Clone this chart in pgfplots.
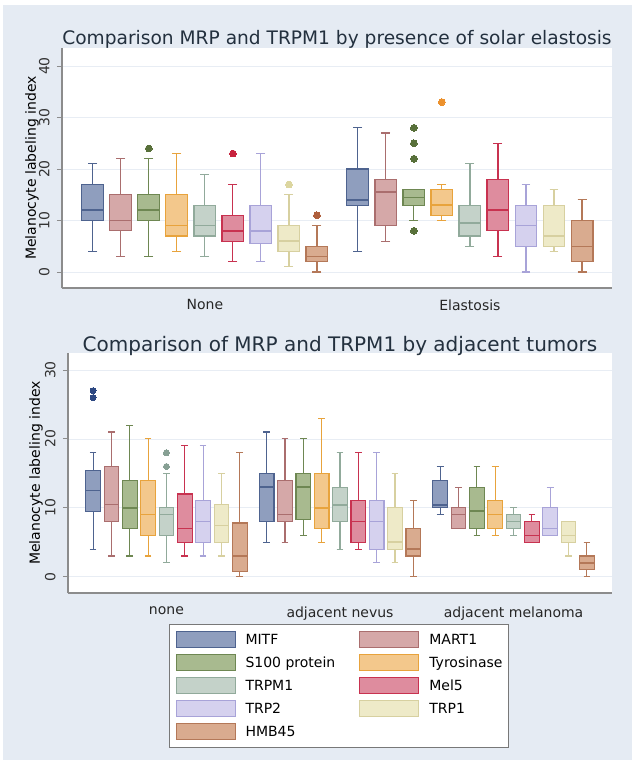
\documentclass[border=0pt]{standalone}
\usepackage{pgfplots}
\pgfplotsset{compat=1.18}
\usepgfplotslibrary{statistics}
\usepackage{fontspec}
\setmainfont{DejaVu Sans}

\definecolor{bgblue}{RGB}{229,235,243}
\definecolor{axisgray}{RGB}{140,140,140}
\definecolor{gridc}{RGB}{232,237,244}
\definecolor{titlec}{RGB}{35,48,62}
\definecolor{legendgray}{RGB}{120,120,120}
% line, fill, outlier colours
\definecolor{cMITF}{RGB}{78,99,143}   \definecolor{fMITF}{RGB}{143,158,190}  \definecolor{oMITF}{RGB}{45,72,130}
\definecolor{cMART}{RGB}{170,110,110} \definecolor{fMART}{RGB}{213,168,168}  \definecolor{oMART}{RGB}{160,90,90}
\definecolor{cS}{RGB}{110,135,82}     \definecolor{fS}{RGB}{168,186,143}     \definecolor{oS}{RGB}{88,112,58}
\definecolor{cTyr}{RGB}{232,163,60}   \definecolor{fTyr}{RGB}{243,200,140}   \definecolor{oTyr}{RGB}{236,145,45}
\definecolor{cTRPM}{RGB}{145,170,155} \definecolor{fTRPM}{RGB}{196,210,201}  \definecolor{oTRPM}{RGB}{135,160,148}
\definecolor{cMel}{RGB}{200,50,80}    \definecolor{fMel}{RGB}{222,140,158}   \definecolor{oMel}{RGB}{200,35,62}
\definecolor{cTRPb}{RGB}{168,163,216} \definecolor{fTRPb}{RGB}{213,209,238}  \definecolor{oTRPb}{RGB}{160,155,210}
\definecolor{cTRPa}{RGB}{215,208,160} \definecolor{fTRPa}{RGB}{238,234,200}  \definecolor{oTRPa}{RGB}{220,214,160}
\definecolor{cHMB}{RGB}{180,120,88}   \definecolor{fHMB}{RGB}{217,171,143}   \definecolor{oHMB}{RGB}{175,95,60}

% #1 position, #2 colour key, #3 lw, #4 q1, #5 median, #6 q3, #7 uw, #8 outliers
\newcommand{\bx}[8]{%
  \addplot[forget plot, draw=c#2, fill=f#2, line width=1.1pt, mark=*,
    mark options={draw=o#2, fill=o#2, line width=0pt},
    boxplot prepared={draw position=#1, lower whisker=#3, lower quartile=#4,
      median=#5, upper quartile=#6, upper whisker=#7}] coordinates {#8};}

\pgfplotsset{
  sw/.style 2 args={legend image code/.code={\draw[draw=#1, fill=#2, line width=1pt] (0pt,-8pt) rectangle (59pt,8pt);}},
  bpaxis/.style={
    scale only axis,
    axis lines=left,
    axis line style={-, draw=axisgray, line width=1.5pt},
    axis background/.style={fill=white},
    ymajorgrids, grid style={draw=gridc, line width=0.8pt},
    tick align=outside, major tick length=5pt,
    ytick style={draw=axisgray, line width=1pt},
    xtick style={draw=none},
    yticklabel style={rotate=90, anchor=south, font=\fontsize{14}{14}\selectfont, text=black!80},
    yticklabel shift=4pt,
    /pgf/number format/assume math mode=true,
    xticklabel style={font=\fontsize{14}{14}\selectfont, text=black!85, yshift=-3pt},
    ylabel={Melanocyte labeling index},
    title style={text=titlec, at={(0.5,1)}, anchor=base},
    boxplot/draw direction=y,
    boxplot/box extend=0.78,
    boxplot/every median/.style={line width=1.5pt},
    mark size=3.4pt,
  }
}

\begin{document}
\begin{tikzpicture}
\fill[white] (0pt,0pt) rectangle (635pt,-769pt);
\fill[bgblue] (3pt,-5pt) rectangle (632pt,-760pt);

% ---------------- top panel ----------------
\begin{axis}[bpaxis,
  at={(62pt,-288pt)}, anchor=south west, width=550pt, height=240pt,
  xmin=-0.1, xmax=19.53, ymin=-3.1, ymax=43.5,
  ytick={0,10,20,30,40},
  xtick={5,14.46}, xticklabels={None,Elastosis},
  ylabel style={at={(axis description cs:-0.0545,0.5)}, anchor=center, font=\fontsize{14}{14}\selectfont},
  title={Comparison MRP and TRPM1 by presence of solar elastosis},
  title style={font=\fontsize{18.6}{18.6}\selectfont, yshift=-2pt},
  boxplot/whisker extend=0.32,
]
% None
\bx{1}{MITF}{4}{10}{12}{17}{21}{}
\bx{2}{MART}{3}{8}{10}{15}{22}{}
\bx{3}{S}{3}{10}{12}{15}{22}{(0,24)}
\bx{4}{Tyr}{4}{7}{9}{15}{23}{}
\bx{5}{TRPM}{3}{7}{9}{13}{19}{}
\bx{6}{Mel}{2}{6}{8}{11}{17}{(0,23)}
\bx{7}{TRPb}{2}{5.5}{8}{13}{23}{}
\bx{8}{TRPa}{1}{4}{6}{9}{15}{(0,17)}
\bx{9}{HMB}{0}{2}{3}{5}{9}{(0,11)}
% Elastosis
\bx{10.46}{MITF}{4}{13}{14}{20}{28}{}
\bx{11.46}{MART}{6}{9}{15.5}{18}{27}{}
\bx{12.46}{S}{10}{13}{14.5}{16}{16}{(0,28) (0,25) (0,22) (0,8)}
\bx{13.46}{Tyr}{10}{11}{13}{16}{17}{(0,33)}
\bx{14.46}{TRPM}{5}{7}{9.5}{13}{21}{}
\bx{15.46}{Mel}{3}{8}{12}{18}{25}{}
\bx{16.46}{TRPb}{0}{5}{9}{13}{17}{}
\bx{17.46}{TRPa}{4}{5}{7}{13}{16}{}
\bx{18.46}{HMB}{0}{2}{5}{10}{14}{}
\end{axis}

% ---------------- bottom panel ----------------
\begin{axis}[bpaxis,
  at={(68pt,-593pt)}, anchor=south west, width=544pt, height=240pt,
  xmin=-0.37, xmax=29.31, ymin=-2.37, ymax=32.47,
  ytick={0,10,20,30},
  xtick={5,14.47,23.94}, xticklabels={none,adjacent nevus,adjacent melanoma},
  xticklabel style={yshift=-2pt},
  ylabel style={at={(axis description cs:-0.0588,0.5)}, anchor=center, font=\fontsize{14}{14}\selectfont},
  title={Comparison of MRP and TRPM1 by adjacent tumors},
  title style={font=\fontsize{20}{20}\selectfont, yshift=-4pt},
  boxplot/box extend=0.8,
  boxplot/whisker extend=0.36,
  mark size=3pt,
  legend columns=2, legend cell align=left,
  legend style={at={(axis description cs:0.1857,-0.129)}, anchor=north west,
    draw=legendgray, fill=white, line width=1pt, inner xsep=6pt, inner ysep=7pt,
    font=\fontsize{14}{16}\selectfont, row sep=6pt,
    nodes={inner sep=0pt},
    /tikz/every odd column/.append style={column sep=10pt},
    /tikz/every even column/.append style={column sep=24pt}},
]
\addlegendimage{sw={cMITF}{fMITF}} \addlegendentry{MITF}
\addlegendimage{sw={cMART}{fMART}} \addlegendentry{MART1}
\addlegendimage{sw={cS}{fS}} \addlegendentry{S100 protein}
\addlegendimage{sw={cTyr}{fTyr}} \addlegendentry{Tyrosinase}
\addlegendimage{sw={cTRPM}{fTRPM}} \addlegendentry{TRPM1}
\addlegendimage{sw={cMel}{fMel}} \addlegendentry{Mel5}
\addlegendimage{sw={cTRPb}{fTRPb}} \addlegendentry{TRP2}
\addlegendimage{sw={cTRPa}{fTRPa}} \addlegendentry{TRP1}
\addlegendimage{sw={cHMB}{fHMB}} \addlegendentry{HMB45}
% none
\bx{1}{MITF}{4}{9.4}{12.5}{15.4}{18}{(0,27) (0,26)}
\bx{2}{MART}{3}{8}{10.5}{16}{21}{}
\bx{3}{S}{3}{7}{10}{14}{22}{}
\bx{4}{Tyr}{3}{6}{9}{14}{20}{}
\bx{5}{TRPM}{2}{6}{9}{10}{15}{(0,18) (0,16)}
\bx{6}{Mel}{3}{5}{7}{12}{19}{}
\bx{7}{TRPb}{3}{5}{8}{11}{19}{}
\bx{8}{TRPa}{3}{5}{7.4}{10.5}{15}{}
\bx{9}{HMB}{0}{0.8}{3}{7.8}{18}{}
% adjacent nevus
\bx{10.47}{MITF}{5}{8}{13}{15}{21}{}
\bx{11.47}{MART}{5}{8}{9}{14}{20}{}
\bx{12.47}{S}{6}{8.3}{13}{15}{20}{}
\bx{13.47}{Tyr}{5}{7}{10}{15}{23}{}
\bx{14.47}{TRPM}{4}{8}{10.4}{13}{18}{}
\bx{15.47}{Mel}{4}{5}{8}{11}{18}{}
\bx{16.47}{TRPb}{2}{4}{8}{11}{18}{}
\bx{17.47}{TRPa}{2}{4}{5}{10}{15}{}
\bx{18.47}{HMB}{0}{3}{4}{7}{11}{}
% adjacent melanoma
\bx{19.94}{MITF}{9}{10}{10.4}{14}{16}{}
\bx{20.94}{MART}{7}{7}{9}{10}{13}{}
\bx{21.94}{S}{6}{7}{9.5}{13}{16}{}
\bx{22.94}{Tyr}{6}{7}{9}{11}{16}{}
\bx{23.94}{TRPM}{6}{7}{8}{9}{10}{}
\bx{24.94}{Mel}{5}{5}{6}{8}{9}{}
\bx{25.94}{TRPb}{6}{6}{7}{10}{13}{}
\bx{26.94}{TRPa}{3}{5}{6}{8}{8}{}
\bx{27.94}{HMB}{0}{1}{2}{3}{5}{}
\end{axis}
\end{tikzpicture}
\end{document}
